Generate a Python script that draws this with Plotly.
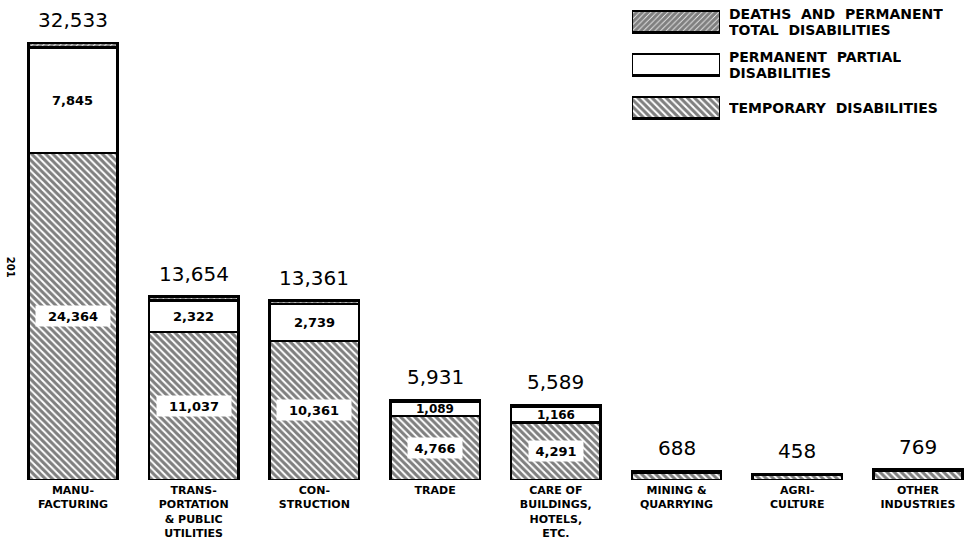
import plotly.graph_objects as go

categories = ["MANU-<br>FACTURING", "TRANS-<br>PORTATION<br>& PUBLIC<br>UTILITIES",
              "CON-<br>STRUCTION", "TRADE", "CARE OF<br>BUILDINGS,<br>HOTELS,<br>ETC.",
              "MINING &<br>QUARRYING", "AGRI-<br>CULTURE", "OTHER<br>INDUSTRIES"]
temporary = [24364, 11037, 10361, 4766, 4291, 550, 368, 685]
partial = [7845, 2322, 2739, 1089, 1166, 110, 75, 64]
deaths = [324, 295, 261, 76, 132, 28, 15, 20]
totals = [32533, 13654, 13361, 5931, 5589, 688, 458, 769]
temp_labels = ["24,364", "11,037", "10,361", "4,766", "4,291", "", "", ""]
partial_labels = ["7,845", "2,322", "2,739", "1,089", "1,166", "", "", ""]
total_labels = ["32,533", "13,654", "13,361", "5,931", "5,589", "688", "458", "769"]
series_keys = ["deaths", "partial", "temporary"]
series_lines = [["DEATHS  AND  PERMANENT", "TOTAL  DISABILITIES"],
                ["PERMANENT  PARTIAL", "DISABILITIES"],
                ["TEMPORARY  DISABILITIES"]]

line = dict(color="black", width=2.5)
temp_marker = dict(color="white", line=line,
                   pattern=dict(shape="\\", fgcolor="black", bgcolor="white", size=5, solidity=0.6))
partial_marker = dict(color="white", line=line)
death_marker = dict(color="black", line=line,
                    pattern=dict(shape="/", fgcolor="black", bgcolor="white", size=4, solidity=0.8))

fig = go.Figure()
fig.add_trace(go.Bar(x=categories, y=temporary, marker=temp_marker, showlegend=False, hoverinfo="skip"))
fig.add_trace(go.Bar(x=categories, y=partial, marker=partial_marker, showlegend=False, hoverinfo="skip"))
fig.add_trace(go.Bar(x=categories, y=deaths, marker=death_marker, showlegend=False, hoverinfo="skip"))

# legend swatches as horizontal bars on their own small axes
leg_markers = [death_marker, partial_marker, temp_marker]
for key, mk in zip(series_keys, leg_markers):
    fig.add_trace(go.Bar(x=[1], y=[key], orientation="h", marker=mk, width=0.5,
                         xaxis="x2", yaxis="y2", showlegend=False, hoverinfo="skip"))

annotations = []
for cat, tot, lab in zip(categories, totals, total_labels):
    annotations.append(dict(x=cat, y=tot, text=lab, showarrow=False, yanchor="bottom", yshift=9,
                            font=dict(family="DejaVu Sans", size=20, color="black")))
for cat, t, lab in zip(categories, temporary, temp_labels):
    if lab:
        annotations.append(dict(x=cat, y=t / 2, text="<b>%s</b>" % lab, showarrow=False,
                                bgcolor="white", width=72 if len(lab) > 5 else 52, height=18,
                                font=dict(family="DejaVu Sans", size=13, color="black")))
for cat, t, p, lab in zip(categories, temporary, partial, partial_labels):
    if lab:
        annotations.append(dict(x=cat, y=t + p / 2, text="<b>%s</b>" % lab, showarrow=False,
                                font=dict(family="DejaVu Sans", size=13 if p > 2000 else 12, color="black")))
for key, lines in zip(series_keys, series_lines):
    n = len(lines)
    for i, txt in enumerate(lines):
        annotations.append(dict(x=0.750, xref="paper", y=key, yref="y2", text="<b>%s</b>" % txt,
                                showarrow=False, xanchor="left", yanchor="middle", align="left",
                                height=16, yshift=(n - 1) * 8 - i * 16,
                                font=dict(family="DejaVu Sans", size=14, color="black")))
annotations.append(dict(x=-0.002, xref="paper", y=0.444, yref="paper", text="<b>201</b>", textangle=90,
                        showarrow=False, xanchor="center",
                        font=dict(family="DejaVu Sans", size=10, color="black")))

fig.update_layout(
    width=965, height=545,
    margin=dict(l=12, r=0, t=0, b=65),
    paper_bgcolor="white", plot_bgcolor="white",
    barmode="stack", bargap=0.26,
    xaxis=dict(range=[-0.505, 7.39], showgrid=False, zeroline=False, showline=False, ticks="",
               tickfont=dict(family="DejaVu Sans", size=11, color="black", weight="bold"),
               ticklabelstandoff=2),
    yaxis=dict(range=[0, 35740], visible=False),
    xaxis2=dict(domain=[0.6506, 0.743], range=[0, 1], visible=False, anchor="y2"),
    yaxis2=dict(domain=[0.731, 1.0], range=[2.5, -0.5], visible=False, anchor="x2",
                categoryorder="array", categoryarray=series_keys),
    annotations=annotations,
)
fig.write_html("out.html", config={"displayModeBar": False},
               post_script="document.body.style.margin='0';")
